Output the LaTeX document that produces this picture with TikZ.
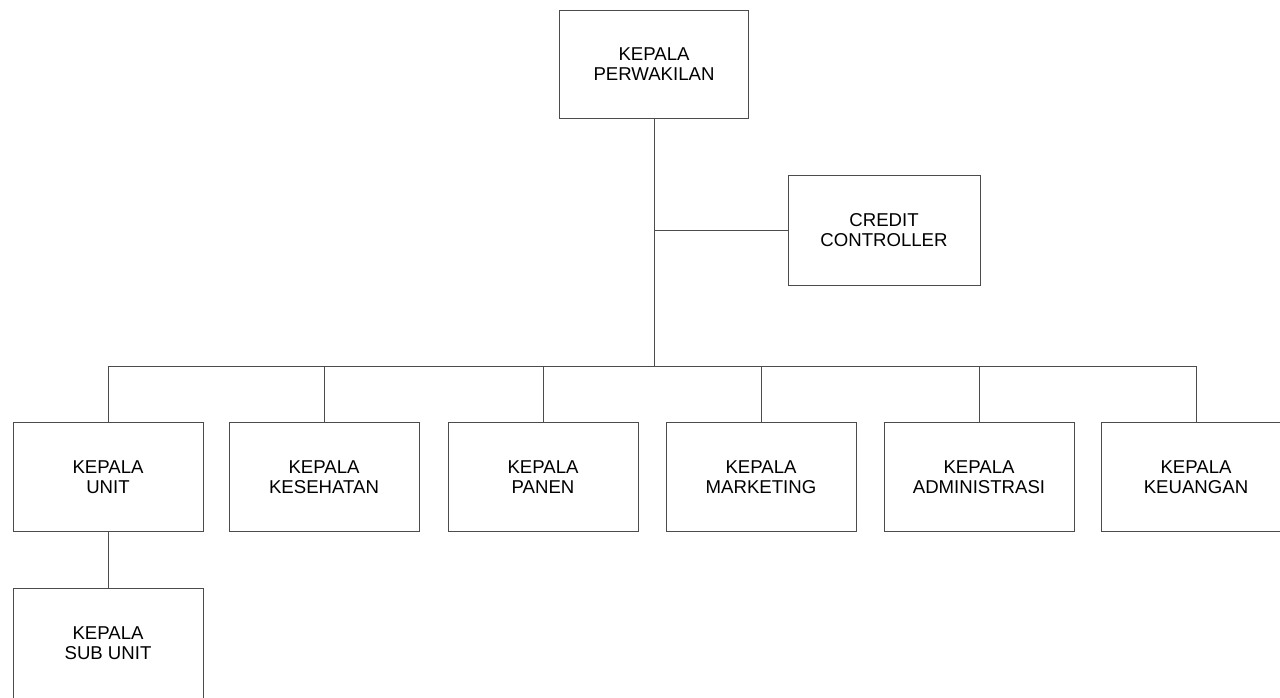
\documentclass[tikz,border=0pt]{standalone}
\usepackage{fontspec}
\setmainfont{Liberation Sans}
\usetikzlibrary{positioning}

\begin{document}
\begin{tikzpicture}[
  x=1pt,y=-1pt,
  font=\fontsize{18.6}{19.5}\selectfont,
  unitbox/.style={draw=black!70, line width=0.9pt, minimum width=190pt, minimum height=109pt, align=center, inner sep=0pt},
  link/.style={draw=black!70, line width=0.9pt}
]
\useasboundingbox (0,0) rectangle (1280,697);

% Top level
\node[unitbox, minimum width=189pt, minimum height=108pt] (perwakilan) at (654,64) {KEPALA\\PERWAKILAN};
\node[unitbox, minimum width=192pt, minimum height=110pt] (credit) at (884,230) {CREDIT\\CONTROLLER};

% Second level
\node[unitbox] (unit) at (108,477) {KEPALA\\UNIT};
\node[unitbox] (kesehatan) at (324,477) {KEPALA\\KESEHATAN};
\node[unitbox] (panen) at (543,477) {KEPALA\\PANEN};
\node[unitbox] (marketing) at (761,477) {KEPALA\\MARKETING};
\node[unitbox] (administrasi) at (979,477) {KEPALA\\ADMINISTRASI};
\node[unitbox] (keuangan) at (1196,477) {KEPALA\\KEUANGAN};

% Third level
\node[unitbox, minimum height=110pt] (subunit) at (108,643) {KEPALA\\SUB UNIT};

% Connectors
\coordinate (bus) at (654,366);
\draw[link] (perwakilan.south) -- (bus);
\draw[link] (credit.west) -- (credit.west -| perwakilan.south);
\draw[link] (unit.north |- bus) -- (keuangan.north |- bus);
\foreach \n in {unit,kesehatan,panen,marketing,administrasi,keuangan}
  \draw[link] (\n.north) -- (\n.north |- bus);
\draw[link] (unit.south) -- (subunit.north);

\end{tikzpicture}
\end{document}
